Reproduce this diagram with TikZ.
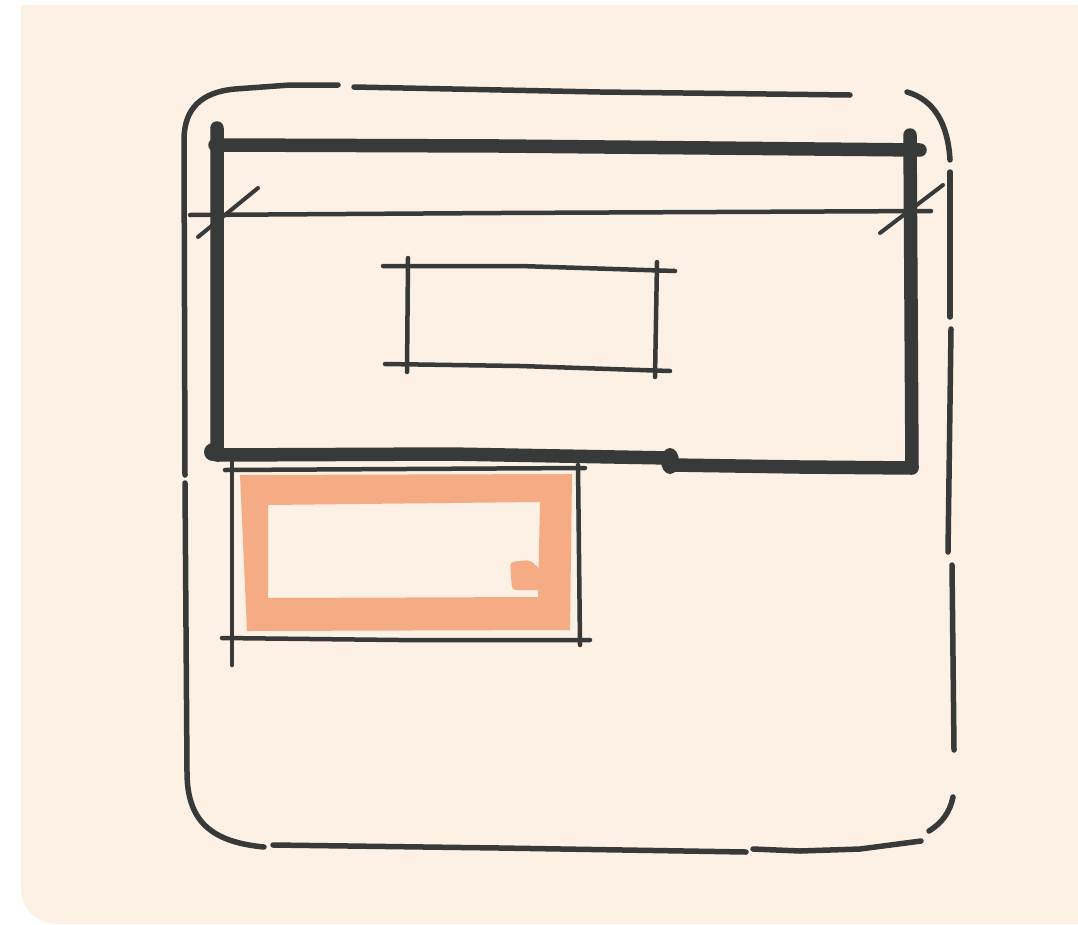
\documentclass[tikz,border=0pt]{standalone}
\usetikzlibrary{calc}
\definecolor{paper}{RGB}{253,240,228}
\definecolor{ink}{RGB}{56,58,58}
\definecolor{peach}{RGB}{245,172,132}
\tikzset{
  inkline/.style={draw=ink,line cap=round,line join=round},
  framepen/.style={inkline,line width=5.5pt},
  thickpen/.style={inkline,line width=13.5pt},
  finepen/.style={inkline,line width=4.5pt},
  slashpen/.style={inkline,line width=4pt},
}
\begin{document}
\begin{tikzpicture}[x=1pt,y=-1pt]
\useasboundingbox (0,0) rectangle (1078,924);
% background sheet
\fill[paper] (21,5) -- (1078,5) -- (1078,924) -- (56,924) .. controls (37,924) and (21,908) .. (21,889) -- cycle;

% outer broken rounded frame
\draw[framepen] (185,475) -- (184,140) .. controls (184,108) and (202,92) .. (235,89) -- (290,85) -- (338,85);
\draw[framepen] (354,87) -- (600,92) -- (850,95);
\draw[framepen] (907,92) .. controls (935,100) and (948,125) .. (950,160);
\draw[framepen] (950,172) -- (950,317);
\draw[framepen] (951,329) -- (948,552);
\draw[framepen] (952,565) -- (954,750);
\draw[framepen] (953,797) .. controls (950,812) and (942,823) .. (929,831);
\draw[framepen] (921,841) -- (860,849) -- (800,851) -- (753,849);
\draw[framepen] (746,852) -- (500,848) -- (273,845);
\draw[framepen] (264,847) .. controls (212,842) and (187,822) .. (187,772) -- (185,483);

% orange highlight band
\fill[peach,even odd rule] (240,475) -- (572,474) -- (570,630) -- (247,631) -- cycle
  (268,505) -- (540,502) -- (538,597) -- (268,598) -- cycle;
\fill[peach,rounded corners=4pt] (510,562) -- (530,560) -- (541,570) -- (541,590) -- (512,590) -- cycle;

% thick inner frame
\draw[thickpen] (215,145) -- (500,146) -- (920,150);
\draw[thickpen] (217,128) -- (217,455) -- (450,454) -- (670,458);
\draw[thickpen] (910,135) -- (912,468) -- (800,467) -- (672,465);
\fill[ink] (670,461) ellipse (9pt and 13pt);
\fill[ink] (213,452) circle (9pt);

% thin cross line with ticks
\draw[finepen] (190,215) -- (500,213) -- (931,211);
\draw[slashpen] (198,237) -- (258,188);
\draw[slashpen] (880,233) -- (943,185);

% inner small rectangle
\draw[finepen] (383,266) -- (520,266) -- (675,271);
\draw[finepen] (408,258) -- (407,372);
\draw[finepen] (657,262) -- (655,377);
\draw[finepen] (385,364) -- (520,366) -- (670,371);

% rectangle around the orange band
\draw[finepen] (225,470) -- (585,468);
\draw[finepen] (232,462) -- (232,665);
\draw[finepen] (578,465) -- (580,645);
\draw[finepen] (222,638) -- (400,640) -- (590,640);
\end{tikzpicture}
\end{document}
